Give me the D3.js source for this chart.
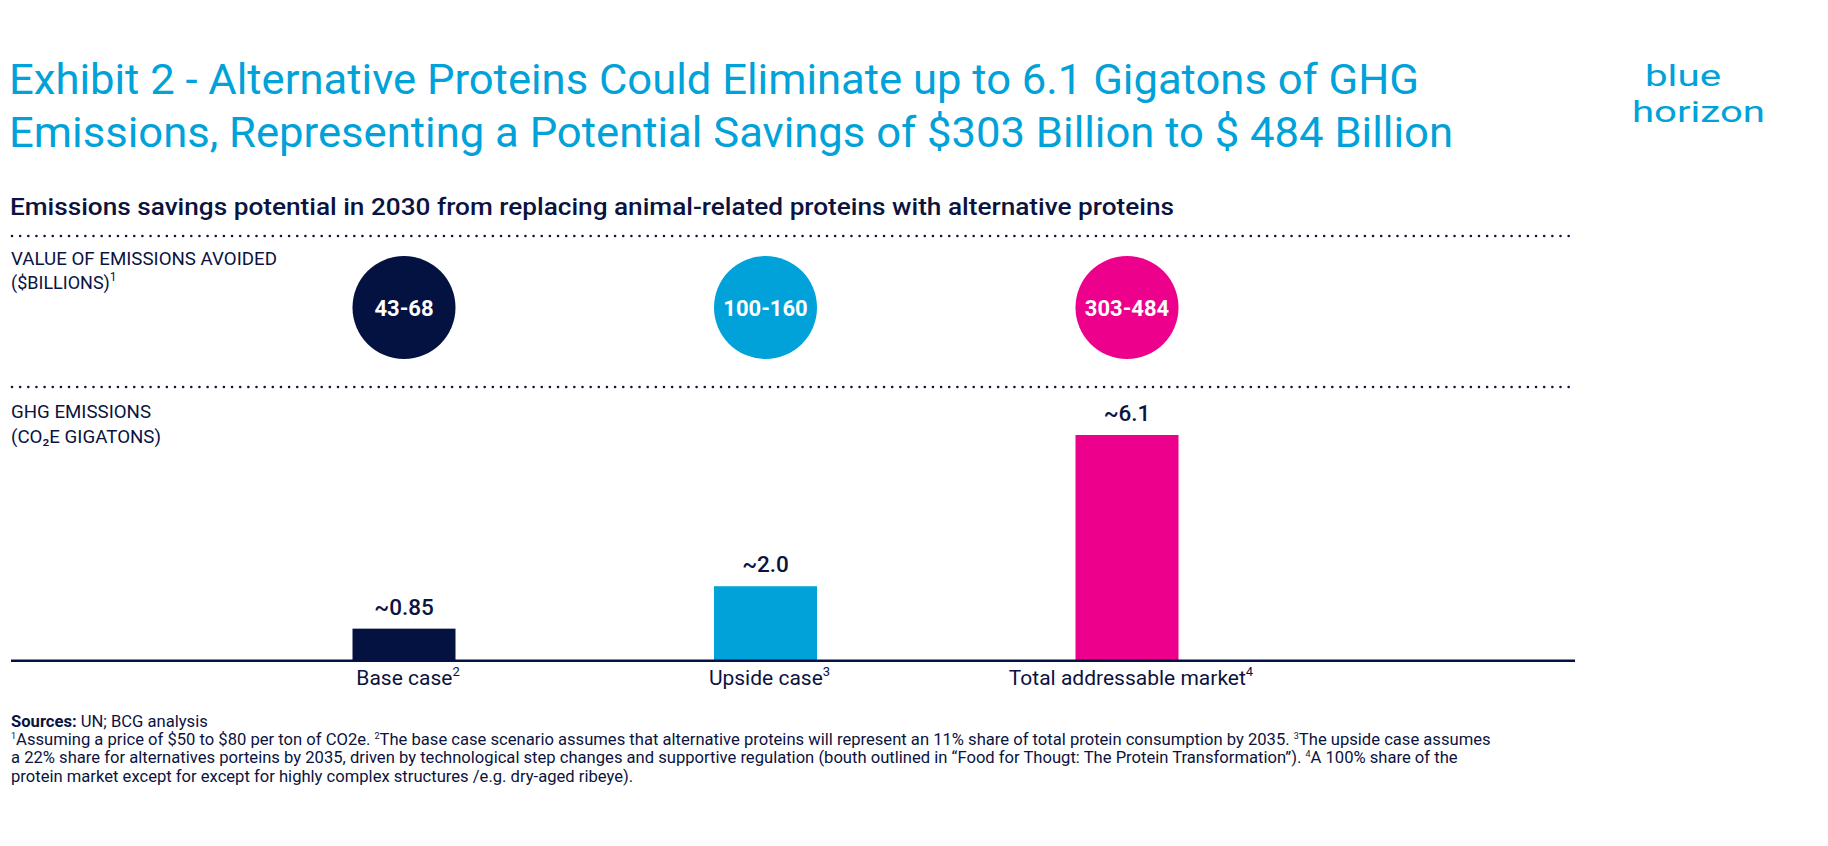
<!DOCTYPE html>
<html>
<head>
<meta charset="utf-8">
<script src="https://cdn.jsdelivr.net/npm/d3@7"></script>
<style>
  html, body { margin: 0; padding: 0; background: #ffffff; }
  svg { display: block; font-family: Roboto, "Noto Sans", sans-serif; }
</style>
</head>
<body>
<svg id="chart" width="1828" height="846"></svg>
<script>
// ---------- data ----------
const categories = ["Base case", "Upside case", "Total addressable market"];
const categoryNotes = ["2", "3", "4"];
const emissions = [0.85, 2.0, 6.1];
const emissionLabels = ["~0.85", "~2.0", "~6.1"];
const valueRanges = ["43-68", "100-160", "303-484"];

const titleLines = [
  "Exhibit 2 - Alternative Proteins Could Eliminate up to 6.1 Gigatons of GHG",
  "Emissions, Representing a Potential Savings of $303 Billion to $ 484 Billion"
];
const subtitle = "Emissions savings potential in 2030 from replacing animal-related proteins with alternative proteins";
const valueRowLabel = ["VALUE OF EMISSIONS AVOIDED", "($BILLIONS)"];
const valueRowNote = "1";
const ghgRowLabel = ["GHG EMISSIONS", "(CO\u2082E GIGATONS)"];
const footnoteLines = [
  [["1", true], ["Assuming a price of $50 to $80 per ton of CO2e. ", false], ["2", true], ["The base case scenario assumes that alternative proteins will represent an 11% share of total protein consumption by 2035. ", false], ["3", true], ["The upside case assumes", false]],
  [["a 22% share for alternatives porteins by 2035, driven by technological step changes and supportive regulation (bouth outlined in \u201CFood for Thougt: The Protein Transformation\u201D). ", false], ["4", true], ["A 100% share of the", false]],
  [["protein market except for except for highly complex structures /e.g. dry-aged ribeye).", false]]
];
const logoWords = ["blue", "horizon"];

// ---------- styles ----------
const NAVY = "#041241";
const CYAN = "#00a2d9";
const MAGENTA = "#ec008c";
const TEXT = "#0b1340";
const colorScale = d3.scaleOrdinal().domain(categories).range([NAVY, CYAN, MAGENTA]);

const svg = d3.select("#chart");
svg.append("rect").attr("width", 1828).attr("height", 846).attr("fill", "#fff");

// ---------- title ----------
const titleLens = [1410, 1444];
svg.append("g").selectAll("text").data(titleLines).join("text")
  .attr("x", 9).attr("y", (d, i) => 94 + i * 53)
  .attr("font-size", 42).attr("fill", CYAN).attr("font-weight", 400)
  .attr("textLength", (d, i) => titleLens[i]).attr("lengthAdjust", "spacingAndGlyphs")
  .text(d => d);

// ---------- logo ----------
const logoLens = [76, 133];
const logoX = [1645, 1632];
svg.append("g").selectAll("text").data(logoWords).join("text")
  .attr("x", (d, i) => logoX[i]).attr("y", (d, i) => 86 + i * 36)
  .attr("font-family", "Roboto, sans-serif")
  .attr("font-size", 29).attr("fill", CYAN).attr("font-weight", 400)
  .attr("textLength", (d, i) => logoLens[i]).attr("lengthAdjust", "spacingAndGlyphs")
  .text(d => d);

// ---------- subtitle ----------
svg.append("text").attr("x", 10).attr("y", 215)
  .attr("font-size", 24).attr("font-weight", 500).attr("fill", TEXT)
  .attr("textLength", 1164).attr("lengthAdjust", "spacingAndGlyphs")
  .text(subtitle);

// ---------- dotted separators ----------
[236, 387].forEach(yy => {
  svg.append("line").attr("x1", 12).attr("x2", 1576).attr("y1", yy).attr("y2", yy)
    .attr("stroke", TEXT).attr("stroke-width", 2.6)
    .attr("stroke-linecap", "round").attr("stroke-dasharray", "0 8.15");
});

// ---------- row labels ----------
const vl = svg.append("g").attr("fill", TEXT).attr("font-size", 18).attr("font-weight", 400);
vl.append("text").attr("x", 11).attr("y", 265)
  .attr("textLength", 266).attr("lengthAdjust", "spacingAndGlyphs").text(valueRowLabel[0]);
const vl2 = vl.append("text").attr("x", 11).attr("y", 289);
vl2.append("tspan").text(valueRowLabel[1]);
vl2.append("tspan").attr("font-size", 12).attr("dy", -8).text(valueRowNote);

const ghgLens = [140, 150];
const gl = svg.append("g").attr("fill", TEXT).attr("font-size", 18).attr("font-weight", 400);
ghgRowLabel.forEach((t, i) => gl.append("text").attr("x", 11).attr("y", 418 + i * 25)
  .attr("textLength", ghgLens[i]).attr("lengthAdjust", "spacingAndGlyphs").text(t));

// ---------- scales ----------
const x = d3.scalePoint().domain(categories).range([404, 1127]);
const y = d3.scaleLinear().domain([0, 6.1]).range([660, 435]);
const barW = 103;
const rows = categories.map((c, i) => ({
  cat: c, note: categoryNotes[i], value: emissions[i], label: emissionLabels[i], range: valueRanges[i]
}));

// ---------- circles (value of emissions avoided) ----------
const cg = svg.append("g").selectAll("g").data(rows).join("g")
  .attr("transform", d => `translate(${x(d.cat)},307.5)`);
cg.append("circle").attr("r", 51.5).attr("fill", d => colorScale(d.cat));
cg.append("text").attr("text-anchor", "middle").attr("y", 8)
  .attr("font-size", 22).attr("font-weight", 700).attr("fill", "#fff")
  .text(d => d.range);

// ---------- bars ----------
svg.append("g").selectAll("rect").data(rows).join("rect")
  .attr("x", d => x(d.cat) - barW / 2).attr("width", barW)
  .attr("y", d => y(d.value)).attr("height", d => y(0) - y(d.value))
  .attr("fill", d => colorScale(d.cat));

svg.append("g").selectAll("text").data(rows).join("text")
  .attr("x", d => x(d.cat)).attr("y", d => y(d.value) - 14)
  .attr("text-anchor", "middle").attr("font-size", 22.5).attr("font-weight", 500)
  .attr("fill", TEXT).text(d => d.label);

// baseline
svg.append("line").attr("x1", 11).attr("x2", 1575)
  .attr("y1", y(0) + 0.8).attr("y2", y(0) + 0.8)
  .attr("stroke", NAVY).attr("stroke-width", 2.6);

// category labels
const cl = svg.append("g").selectAll("text").data(rows).join("text")
  .attr("x", d => x(d.cat) + 4).attr("y", 685)
  .attr("text-anchor", "middle").attr("font-size", 21).attr("fill", TEXT);
cl.append("tspan").text(d => d.cat);
cl.append("tspan").attr("font-size", 13).attr("dy", -9).text(d => d.note);

// ---------- footer ----------
const f1 = svg.append("text").attr("x", 11).attr("y", 727).attr("font-size", 16.6).attr("fill", TEXT);
f1.append("tspan").attr("font-weight", 700).text("Sources:");
f1.append("tspan").text(" UN; BCG analysis");

footnoteLines.forEach((parts, i) => {
  const t = svg.append("text").attr("x", 11).attr("y", 745 + i * 18.3)
    .attr("font-size", 16.6).attr("fill", TEXT);
  let sup = false;
  parts.forEach(([s, isSup]) => {
    const ts = t.append("tspan").text(s);
    if (isSup && !sup) { ts.attr("font-size", 9).attr("dy", -6); sup = true; }
    else if (!isSup && sup) { ts.attr("dy", 6); sup = false; }
    else if (isSup) { ts.attr("font-size", 9); }
  });
});
</script>
</body>
</html>
